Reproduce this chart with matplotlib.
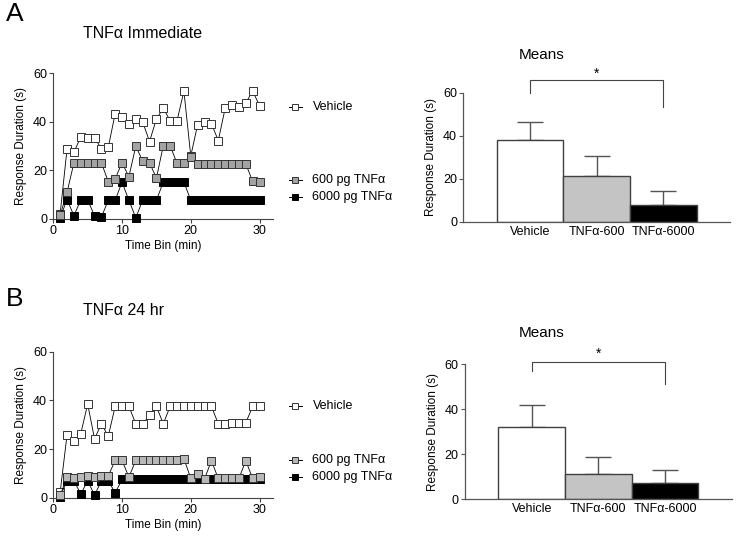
import matplotlib as mpl
mpl.use("Agg")
import matplotlib.pyplot as plt
import numpy as np

plt.rcParams["font.family"] = ["Liberation Sans", "DejaVu Sans"]

MINUTES = list(range(1, 31))

# Panel A: immediate
A_VEHICLE = [2.2, 28.8, 27.5, 33.8, 33.4, 33.4, 29, 29.5, 43.4, 41.8, 39.1, 41.1, 40, 31.9, 41.2,
             45.6, 40.5, 40.5, 52.6, 26, 38.9, 40, 39.3, 32.3, 45.6, 47, 46.2, 47.8, 52.7, 46.7]
A_600 = [1.6, 11, 23.1, 23.1, 23.1, 23.1, 23.1, 15.4, 16.5, 23.2, 17.4, 30, 23.9, 23.2, 16.8,
         30.2, 30.2, 22.9, 22.9, 25.4, 22.7, 22.7, 22.7, 22.7, 22.7, 22.7, 22.7, 22.7, 15.5, 15.4]
A_6000 = [0.5, 8, 1.4, 7.8, 7.8, 1.4, 0.8, 7.7, 7.7, 15.2, 7.7, 0.5, 7.7, 7.7, 7.7,
          15.2, 15.2, 15.2, 15.2, 7.7, 7.7, 7.7, 7.7, 7.7, 7.7, 7.7, 7.7, 7.7, 7.7, 7.7]

# Panel B: 24 hr
B_VEHICLE = [2.3, 25.8, 23.2, 26.3, 38.5, 24.2, 30.3, 25.3, 37.5, 37.5, 37.5, 30.4, 30.4, 33.8, 37.5,
             30.4, 37.5, 37.5, 37.5, 37.5, 37.5, 37.5, 37.5, 30.4, 30.4, 30.9, 30.9, 30.8, 37.5, 37.5]
B_600 = [1, 8.5, 8.2, 8.5, 9, 8.5, 9, 9, 15.3, 15.3, 8.5, 15.3, 15.3, 15.3, 15.3,
         15.3, 15.3, 15.3, 16.1, 7.9, 9.7, 7.7, 15.2, 7.9, 7.9, 7.9, 7.9, 15.2, 7.9, 8.6]
B_6000 = [0.5, 7, 7, 1.5, 7, 1, 7, 7, 2, 7.5, 7.5, 7.5, 7.5, 7.5, 7.5,
          7.5, 7.5, 7.5, 7.5, 7.5, 7.5, 7.5, 7.5, 7.5, 7.5, 7.5, 7.5, 7.5, 7.5, 7.5]

GROUPS = ["Vehicle", "TNF\u03b1-600", "TNF\u03b1-6000"]
A_MEANS = [37.8, 21.1, 7.75]
A_ERR = [8.7, 9.6, 6.3]
B_MEANS = [32.2, 11.0, 7.0]
B_ERR = [9.8, 7.7, 6.0]

LEGEND_LABELS = ["Vehicle", "600 pg TNF\u03b1", "6000 pg TNF\u03b1"]
EDGE = "#333333"


def line_panel(ax, vehicle, low, high, grey):
    ax.plot(MINUTES, vehicle, "s-", color="black", lw=0.6, ms=5.4, mfc="white",
            mec=EDGE, mew=0.7, clip_on=False, zorder=3)
    ax.plot(MINUTES, high, "s-", color="black", lw=0.6, ms=5.4, mfc="black",
            mec="black", mew=0.7, clip_on=False, zorder=4)
    ax.plot(MINUTES, low, "s-", color="black", lw=0.6, ms=5.4, mfc=grey,
            mec=EDGE, mew=0.7, clip_on=False, zorder=5)
    ax.set_xlim(0, 32)
    ax.set_ylim(0, 60)
    ax.set_xticks([0, 10, 20, 30])
    ax.set_yticks([0, 20, 40, 60])
    ax.set_xlabel("Time Bin (min)", fontsize=8.5, labelpad=2)
    ax.set_ylabel("Response Duration (s)", fontsize=8.5, labelpad=4)
    for s in ("top", "right"):
        ax.spines[s].set_visible(False)
    for s in ("left", "bottom"):
        ax.spines[s].set_color("#444444")
        ax.spines[s].set_linewidth(0.8)
    ax.tick_params(labelsize=9, length=3, width=0.8, color="#444444", pad=1.5)


def bar_panel(ax, means, errs, top, star):
    x = np.arange(len(GROUPS))
    ax.bar(x, means, width=1.0, color=["white", "#c4c4c4", "black"],
           edgecolor="#404040", linewidth=1.0, zorder=2)
    ax.errorbar(x, means, yerr=[np.zeros(len(errs)), errs], fmt="none",
                ecolor="#555555", elinewidth=1.0, capsize=9.5, capthick=1.0, zorder=1)
    ax.set_xlim(-1, 3)
    ax.set_ylim(0, 60)
    ax.set_yticks([0, 20, 40, 60])
    ax.set_xticks(x)
    ax.set_xticklabels(GROUPS, fontsize=9)
    ax.tick_params(axis="x", length=0, pad=3)
    ax.tick_params(axis="y", labelsize=9, length=3, width=0.8, color="#555555", pad=1.5)
    ax.set_ylabel("Response Duration (s)", fontsize=8.5, labelpad=4)
    for s in ("top", "right"):
        ax.spines[s].set_visible(False)
    for s in ("left", "bottom"):
        ax.spines[s].set_color("#555555")
        ax.spines[s].set_linewidth(0.9)
    y, yl, yr = top
    ax.plot([0, 0, 2, 2], [yl, y, y, yr], color="#444444", lw=0.8, clip_on=False)
    ax.text(1, star, "*", ha="center", va="center", fontsize=10, clip_on=False)
    return ax


fig = plt.figure(figsize=(7.37, 5.41), dpi=100)

axA = fig.add_axes([0.0723, 0.5952, 0.2985, 0.2693])
line_panel(axA, A_VEHICLE, A_600, A_6000, "#a3a3a3")
axB = fig.add_axes([0.0723, 0.0800, 0.2985, 0.2699])
line_panel(axB, B_VEHICLE, B_600, B_6000, "#b8b8b8")

axA2 = fig.add_axes([0.6286, 0.5902, 0.3619, 0.2385])
bar_panel(axA2, A_MEANS, A_ERR, (66.1, 59.7, 53.5), 68.6)
axB2 = fig.add_axes([0.6310, 0.0776, 0.3619, 0.2490])
bar_panel(axB2, B_MEANS, B_ERR, (60.9, 57.2, 51.1), 64.5)

fig.text(0.735, 0.898, "Means", fontsize=11, va="center", ha="center")
fig.text(0.735, 0.384, "Means", fontsize=11, va="center", ha="center")

fig.text(0.008, 0.975, "A", fontsize=19, va="center", ha="left")
fig.text(0.008, 0.448, "B", fontsize=19, va="center", ha="left")
fig.text(0.112, 0.939, "TNF\u03b1 Immediate", fontsize=11.5, va="center", ha="left")
fig.text(0.112, 0.426, "TNF\u03b1 24 hr", fontsize=11.5, va="center", ha="left")

# legend entries placed beside the line panels
fills = [("white", EDGE), ("#a3a3a3", EDGE), ("black", "black")]
fills_b = [("white", EDGE), ("#b8b8b8", EDGE), ("black", "black")]
for ys, fl in (([0.802, 0.667, 0.636], fills), ([0.250, 0.150, 0.119], fills_b)):
    for yy, lab, (fc, ec) in zip(ys, LEGEND_LABELS, fl):
        fig.add_artist(plt.Line2D([0.3915, 0.4095], [yy, yy], color="black", lw=0.7))
        fig.add_artist(plt.Line2D([0.4005], [yy], marker="s", ms=4.2, mfc=fc, mec=ec,
                                  mew=0.7, color="black"))
        fig.text(0.424, yy, lab, fontsize=9, va="center", ha="left")

fig.savefig("out.png", dpi=100, facecolor="white")
